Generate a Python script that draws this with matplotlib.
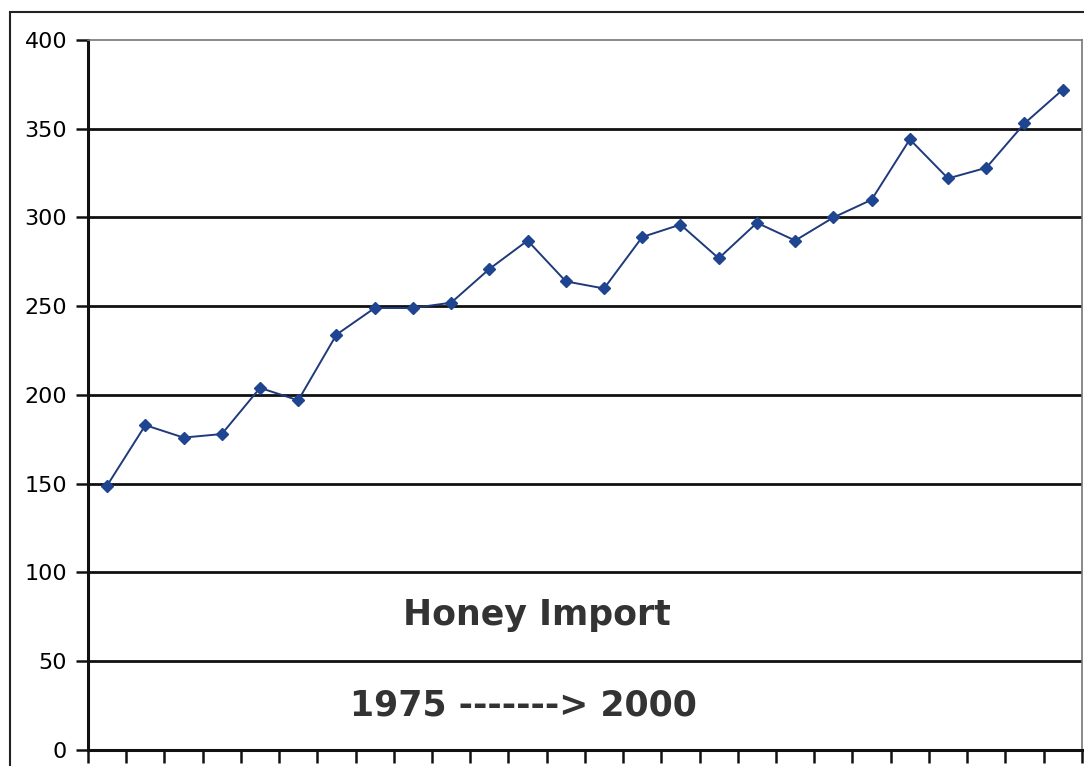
import numpy as np
import matplotlib.pyplot as plt
from matplotlib.patches import Rectangle

# honey import, 1975 -> 2000
years = list(range(1975, 2001))
imports = [149, 183, 176, 178, 204, 197, 234, 249, 249, 252,
           271, 287, 264, 260, 289, 296, 277, 297, 287, 300,
           310, 344, 322, 328, 353, 372]
y_ticks = [0, 50, 100, 150, 200, 250, 300, 350, 400]

fig = plt.figure(figsize=(10.84, 7.66), dpi=100)
ax = fig.add_axes([0.0812, 0.0209, 0.9168, 0.9269])

# outer chart border (runs off the page at right / bottom)
fig.patches.append(Rectangle((10 / 1084, -0.05), 1.2, 1 - 12 / 766 + 0.05,
                             transform=fig.transFigure, fill=False,
                             edgecolor="#222222", linewidth=1.5))

x = np.arange(len(years))
ax.plot(x, imports, color="#1f3a7a", linewidth=1.4, marker="D",
        markersize=6.5, markerfacecolor="#1f4590", markeredgecolor="#1f4590",
        zorder=3)

ax.set_xlim(-0.5, len(years) - 0.5)
ax.set_ylim(0, 400)
ax.set_xticks(np.arange(len(years) + 1) - 0.5)
ax.set_xticklabels([])
ax.set_yticks(y_ticks)
ax.set_yticklabels([str(v) for v in y_ticks], family="DejaVu Sans", fontsize=16)

for v in y_ticks[1:-1]:
    ax.axhline(v, color="#111111", linewidth=2.0, zorder=1)

ax.tick_params(axis="x", direction="out", length=9, width=1.8, color="#111111")
ax.tick_params(axis="y", direction="out", length=9, width=1.8, color="#111111", pad=6)

ax.spines["left"].set_linewidth(2.2)
ax.spines["left"].set_color("#111111")
ax.spines["bottom"].set_linewidth(2.2)
ax.spines["bottom"].set_color("#111111")
ax.spines["top"].set_linewidth(1.2)
ax.spines["top"].set_color("#777777")
ax.spines["right"].set_linewidth(1.2)
ax.spines["right"].set_color("#777777")

ax.text(0.452, 0.19, "Honey Import", transform=ax.transAxes, ha="center",
        va="center", fontsize=25, fontweight="bold", color="#333333",
        family="DejaVu Sans")
ax.text(0.438, 0.062, "1975 -------> 2000", transform=ax.transAxes, ha="center",
        va="center", fontsize=25, fontweight="bold", color="#333333",
        family="DejaVu Sans")

fig.savefig("out.png", dpi=100)
